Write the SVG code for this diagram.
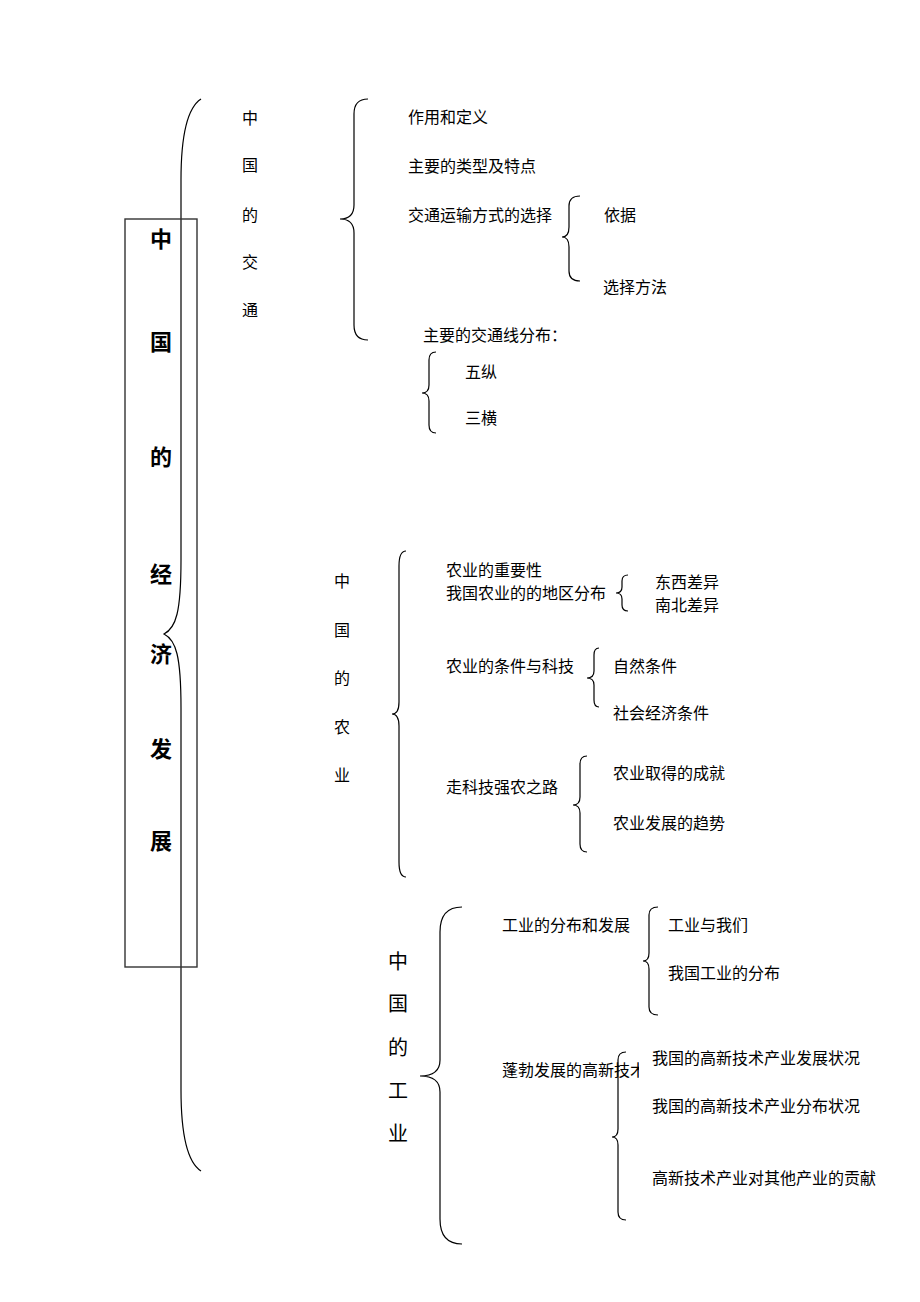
<svg xmlns="http://www.w3.org/2000/svg" width="920" height="1302" viewBox="0 0 920 1302">
<style>
text{font-family:"Liberation Serif","Noto Sans CJK SC",serif;fill:#000;font-size:16px}
.big{font-size:22px;font-weight:bold}
.mid{font-size:20px}
.v{text-anchor:middle}
.br{fill:none;stroke:#000;stroke-width:1.2}
.box{fill:none;stroke:#333;stroke-width:1.4}
</style>
<defs>
<clipPath id="clipHT"><rect x="490" y="1050" width="149" height="30"/></clipPath>
</defs>
<rect width="920" height="1302" fill="#fff"/>

<g id="connectors">
<path class="br" d="M201,99 C187,108 181,135 181,180 L181,560 C181,612 176,628 164,634 C176,640 181,656 181,708 L181,1090 C181,1135 187,1162 201,1171"/>
<path class="br" d="M368,99 Q354,99 354,114 L354,205 Q354,219 340,219 Q354,219 354,233 L354,325 Q354,340 368,340"/>
<path class="br" d="M580,196 Q569,196 569,206 L569,227 Q569,237 562,237 Q569,237 569,247 L569,271 Q569,281 580,281"/>
<path class="br" d="M436,352 Q429,352 429,360 L429,385 Q429,393 422,393 Q429,393 429,401 L429,425 Q429,433 436,433"/>
<path class="br" d="M406,551 Q399,551 399,566 L399,702 Q399,714 392,714 Q399,714 399,726 L399,862 Q399,877 406,877"/>
<path class="br" d="M628,575 Q622,575 622,581 L622,587 Q622,593 616,593 Q622,593 622,599 L622,605 Q622,611 628,611"/>
<path class="br" d="M599,648 Q594,648 594,655 L594,671 Q594,678 587,678 Q594,678 594,685 L594,700 Q594,707 599,707"/>
<path class="br" d="M587,756 Q580,756 580,764 L580,797 Q580,805 573,805 Q580,805 580,813 L580,844 Q580,852 587,852"/>
<path class="br" d="M462,907 Q440,907 440,932 L440,1060 Q440,1076 420,1076 Q440,1076 440,1092 L440,1219 Q440,1244 462,1244"/>
<path class="br" d="M658,907 Q649,907 649,915 L649,953 Q649,961 643,961 Q649,961 649,969 L649,1007 Q649,1015 658,1015"/>
<path class="br" d="M626,1052 Q618,1052 618,1060 L618,1129 Q618,1137 612,1137 Q618,1137 618,1145 L618,1212 Q618,1220 626,1220"/>
</g>

<g id="main">
<rect class="box" x="125" y="219" width="72" height="748"/>
<text class="big v" x="161" y="247">中</text>
<text class="big v" x="161" y="350">国</text>
<text class="big v" x="161" y="465">的</text>
<text class="big v" x="161" y="582">经</text>
<text class="big v" x="161" y="662">济</text>
<text class="big v" x="161" y="757">发</text>
<text class="big v" x="161" y="849">展</text>
</g>

<g id="traffic">
<text class="v" x="250" y="124">中</text>
<text class="v" x="250" y="171">国</text>
<text class="v" x="250" y="221">的</text>
<text class="v" x="250" y="268">交</text>
<text class="v" x="250" y="316">通</text>
</g>
<g id="t-items">
<text x="408" y="123">作用和定义</text>
<text x="408" y="172">主要的类型及特点</text>
<text x="408" y="221">交通运输方式的选择</text>
<text x="604" y="221">依据</text>
<text x="603" y="293">选择方法</text>
<text x="423" y="341">主要的交通线分布：</text>
<text x="465" y="378">五纵</text>
<text x="465" y="424">三横</text>
</g>

<g id="agri">
<text class="v" x="342" y="587">中</text>
<text class="v" x="342" y="636">国</text>
<text class="v" x="342" y="684">的</text>
<text class="v" x="342" y="733">农</text>
<text class="v" x="342" y="781">业</text>
</g>
<g id="a-items">
<text x="446" y="576">农业的重要性</text>
<text x="446" y="599">我国农业的的地区分布</text>
<text x="655" y="588">东西差异</text>
<text x="655" y="611">南北差异</text>
<text x="446" y="672">农业的条件与科技</text>
<text x="613" y="672">自然条件</text>
<text x="613" y="719">社会经济条件</text>
<text x="446" y="793">走科技强农之路</text>
<text x="613" y="779">农业取得的成就</text>
<text x="613" y="829">农业发展的趋势</text>
</g>

<g id="industry">
<text class="mid v" x="398" y="969">中</text>
<text class="mid v" x="398" y="1011">国</text>
<text class="mid v" x="398" y="1055">的</text>
<text class="mid v" x="398" y="1098">工</text>
<text class="mid v" x="398" y="1141">业</text>
</g>
<g id="i-items">
<text x="502" y="931">工业的分布和发展</text>
<text x="668" y="931">工业与我们</text>
<text x="668" y="979">我国工业的分布</text>
<text x="502" y="1076" clip-path="url(#clipHT)">蓬勃发展的高新技术</text>
<text x="652" y="1064">我国的高新技术产业发展状况</text>
<text x="652" y="1112">我国的高新技术产业分布状况</text>
<text x="652" y="1184">高新技术产业对其他产业的贡献</text>
</g>
</svg>
